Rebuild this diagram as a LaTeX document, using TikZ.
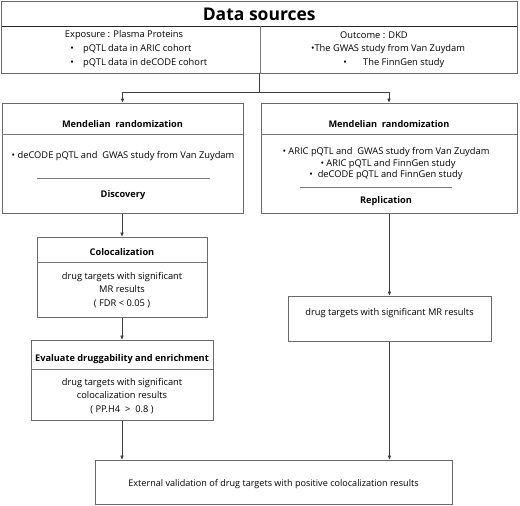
\documentclass[tikz,border=0pt]{standalone}
\usepackage{fontspec}
\setmainfont{Open Sans}
\usetikzlibrary{arrows.meta}
\definecolor{bordc}{RGB}{105,105,105}
\definecolor{linec}{RGB}{60,60,60}
\definecolor{divc}{RGB}{120,120,120}
\begin{document}
\begin{tikzpicture}[x=1pt,y=-1pt,
  box/.style={draw=bordc, line width=1pt, rectangle, inner sep=0pt},
  txt/.style={font=\fontsize{9.3}{11}\selectfont, inner sep=0pt, text=black},
  btxt/.style={font=\fontsize{9.2}{11}\selectfont\bfseries, inner sep=0pt, text=black},
  divline/.style={draw=divc, line width=0.8pt},
  conn/.style={draw=linec, line width=0.8pt},
  arr/.style={conn, -{Triangle[length=4pt,width=3.2pt]}}]
\useasboundingbox (0,0) rectangle (520,506);
% boxes
\node[box, minimum width=515.5pt, minimum height=72pt] (data) at (259.25,37) {};
\node[box, minimum width=241pt, minimum height=110pt] (mrL) at (122.5,158) {};
\node[box, minimum width=256pt, minimum height=110pt] (mrR) at (389,158) {};
\node[box, minimum width=170pt, minimum height=80pt] (colo) at (122,277) {};
\node[box, minimum width=182pt, minimum height=80pt] (eval) at (122,380) {};
\node[box, minimum width=203pt, minimum height=45pt] (sig) at (389.5,318.5) {};
\node[box, minimum width=357pt, minimum height=44pt] (ext) at (273.5,482) {};
% dividers
\draw[line width=1pt, draw=black!85] (1.5,26) -- (517,26);
\draw[divline] (260,26) -- (260,73);
\draw[divline] (2,134) -- (243,134);
\draw[divline] (261,134) -- (517,134);
\draw[divline] (37,178) -- (210,178);
\draw[divline] (300,187) -- (452,187);
\draw[divline] (37,262) -- (207,262);
\draw[divline] (31,369) -- (213,369);
% texts: data sources
\node[inner sep=0pt, font=\fontsize{17.5}{20}\selectfont\bfseries] (title) at (259.25,14) {Data sources};
\node[txt] (expo) at (124,35) {Exposure : Plasma Proteins};
\node[txt] (b1) at (72,49) {•};
\node[txt, anchor=west] (l1) at (83,49) {pQTL data in ARIC cohort};
\node[txt] (b2) at (72,63) {•};
\node[txt, anchor=west] (l2) at (83,63) {pQTL data in deCODE cohort};
\node[txt] (outc) at (374,35) {Outcome : DKD};
\node[txt] (r1) at (388,49) {•The GWAS study from Van Zuydam};
\node[txt] (b3) at (345,63) {•};
\node[txt, anchor=west] (r2) at (363,63) {The FinnGen study};
% MR left
\node[btxt] (mrLt) at (122.5,124) {Mendelian\ \ randomization};
\node[txt] (mrL1) at (123,156) {• deCODE pQTL and\ \ GWAS study from Van Zuydam};
\node[btxt] (disc) at (123,195) {Discovery};
% MR right
\node[btxt] (mrRt) at (389,124) {Mendelian\ \ randomization};
\node[txt] (mrR1) at (386,152) {• ARIC pQTL and\ \ GWAS study from Van Zuydam};
\node[txt] (mrR2) at (388,164) {• ARIC pQTL and FinnGen study};
\node[txt] (mrR3) at (386,175) {•\ \ deCODE pQTL and FinnGen study};
\node[btxt] (repl) at (386,201) {Replication};
% colocalization
\node[btxt] (colot) at (122,252) {Colocalization};
\node[txt, align=center, font=\fontsize{9.3}{13.2}\selectfont] (colob) at (122,290) {drug targets with significant\\MR results\\( FDR < 0.05 )};
% evaluate
\node[btxt] (evalt) at (122,359) {Evaluate druggability and enrichment};
\node[txt, align=center, font=\fontsize{9.3}{13.4}\selectfont] (evalb) at (122,396) {drug targets with significant\\colocalization results\\( PP.H4\ \ >\ \ 0.8 )};
% sig
\node[txt] (sigt) at (389.5,313) {drug targets with significant MR results};
% ext
\node[txt, font=\fontsize{9.1}{11}\selectfont] (extt) at (273.5,484) {External validation of drug targets with positive colocalization results};
% connectors
\coordinate (hub) at (259.25,92);
\draw[conn] (data.south) -- (hub);
\draw[arr] (hub) -| (mrL.north);
\draw[arr] (hub) -| (mrR.north);
\draw[arr] (colo.north |- mrL.south) -- (colo.north);
\draw[arr] (colo.south) -- (eval.north);
\draw[arr] (sig.north |- mrR.south) -- (sig.north);
\draw[arr] (eval.south) -- (eval.south |- ext.north);
\draw[arr] (sig.south) -- (sig.south |- ext.north);
\end{tikzpicture}
\end{document}
